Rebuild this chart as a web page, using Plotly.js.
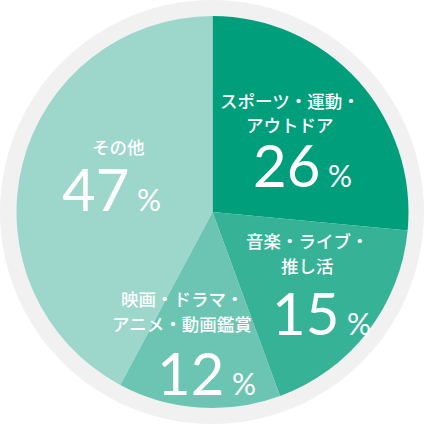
<!DOCTYPE html>
<html>
<head>
<meta charset="utf-8">
<script src="https://cdn.plot.ly/plotly-3.0.1.min.js"></script>
<style>html,body{margin:0;padding:0;background:#fff;}#chart{width:424px;height:424px;}</style>
</head>
<body>
<div id="chart"></div>
<script>
// Data
const categories = ["スポーツ・運動・<br>アウトドア", "音楽・ライブ・<br>推し活", "映画・ドラマ・<br>アニメ・動画鑑賞", "その他"];
// slice sizes as drawn
const sliceShares = [26.5, 17.9, 13.4, 42.2];
// printed percentage labels
const pctLabels = [26, 15, 12, 47];

const colors = ["#009e7b", "#36b297", "#6bc5b2", "#9dd6ca"];

// label positions in pixels (layout only)
const labelPos = [
  {lx: 290, ly: [100, 125], nx: 302, ny: 164},
  {lx: 307, ly: [240, 265], nx: 321, ny: 312},
  {lx: 182, ly: [298, 323], nx: 206, ny: 372},
  {lx: 118, ly: [146],      nx: 111, ny: 189}
];

const W = 424, H = 424;
const px = x => x / W, py = y => 1 - y / H;

const annotations = [];
categories.forEach((cat, i) => {
  const p = labelPos[i];
  cat.split("<br>").forEach((line, j) => {
    annotations.push({
      xref: "paper", yref: "paper", x: px(p.lx), y: py(p.ly[j]),
      xanchor: "center", yanchor: "middle", showarrow: false,
      text: line,
      font: {family: "Noto Sans CJK JP", size: 17.5, color: "#ffffff", weight: 500}
    });
  });
  annotations.push({
    xref: "paper", yref: "paper", x: px(p.nx), y: py(p.ny),
    xanchor: "center", yanchor: "middle", showarrow: false,
    text: pctLabels[i] + '<span style="font-size:30px"> %</span>',
    font: {family: "Lato", size: 58, color: "#ffffff"}
  });
});

const R = 196, CX = 212.5, CY = 212;
const traces = [
  {
    type: "pie", values: [1], labels: ["bg"], sort: false,
    marker: {colors: ["#f1f1f1"], line: {width: 0}},
    textinfo: "none", hoverinfo: "skip", showlegend: false,
    domain: {x: [0, 1], y: [0, 1]}
  },
  {
    type: "pie", values: sliceShares, labels: categories, sort: false,
    direction: "clockwise", rotation: 0,
    marker: {colors: colors, line: {width: 0}},
    textinfo: "none", hoverinfo: "skip", showlegend: false,
    domain: {x: [px(CX - R), px(CX + R)], y: [py(CY + R), py(CY - R)]}
  }
];

const layout = {
  width: W, height: H,
  margin: {l: 0, r: 0, t: 0, b: 0},
  paper_bgcolor: "#ffffff",
  showlegend: false,
  annotations: annotations
};

Plotly.newPlot("chart", traces, layout, {displayModeBar: false, staticPlot: true});
</script>
</body>
</html>
